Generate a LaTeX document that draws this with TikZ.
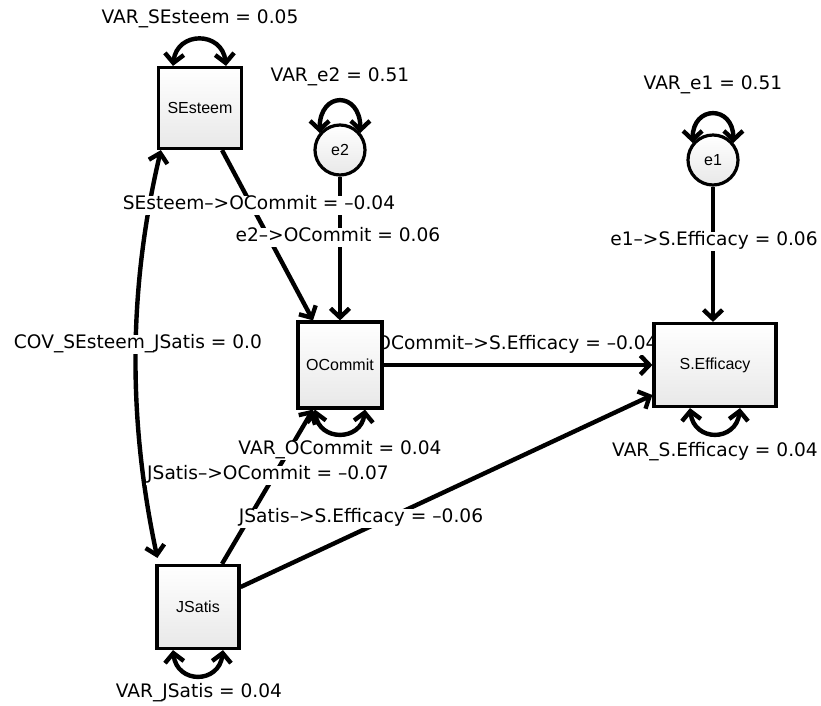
\documentclass[tikz,border=0pt]{standalone}
\usepackage{fontspec}
\setmainfont{DejaVu Sans}
\newfontfamily\nodefont{Liberation Sans}
\usetikzlibrary{arrows.meta}
\pgfdeclarelayer{edges}
\pgfdeclarelayer{labels}
\pgfsetlayers{edges,labels,main}
\begin{document}
\begin{tikzpicture}[x=1pt,y=-1pt,
  obs/.style={draw=black, line width=3.2pt, top color=white, bottom color=gray!18,
    inner sep=0pt, font=\nodefont\fontsize{16}{18}\selectfont},
  latent/.style={obs, circle, minimum size=50pt},
  tipA/.tip={Straight Barb[length=9pt,width=19pt]},
  path/.style={line width=4.4pt, -tipA},
  twoway/.style={line width=4.4pt, tipA-tipA},
  lbl/.style={fill=white, inner sep=1pt, text height=13pt, text depth=4pt,
    font=\fontsize{18.6}{20}\selectfont}]
\useasboundingbox (0,0) rectangle (821,705);

% nodes
\node[obs, minimum width=83pt, minimum height=81pt] (SE) at (200,108) {SEsteem};
\node[obs, minimum width=84pt, minimum height=86pt] (OC) at (340,365) {OCommit};
\node[obs, minimum width=122pt, minimum height=83pt] (SF) at (715,365) {S.Efficacy};
\node[obs, minimum width=82pt, minimum height=83pt] (JS) at (198,607) {JSatis};
\node[latent] (e2) at (340,150) {e2};
\node[latent] (e1) at (713,160) {e1};

\begin{pgfonlayer}{edges}
\draw[path] ([xshift=22pt]SE.south) -- ([xshift=-27pt]OC.north);
\draw[path] (e2.south) -- (OC.north);
\draw[path] (e1.south) -- (e1.south |- SF.north);
\draw[path] (OC.east) -- (SF.west);
\draw[path] ([xshift=24pt]JS.north) -- ([xshift=-27pt]OC.south);
\draw[path] ([yshift=20pt]JS.east) -- ([yshift=-30pt]SF.west);
\draw[twoway] ([xshift=4pt]SE.south west) .. controls (128,290) and (128,420) .. ([xshift=2pt,yshift=6pt]JS.north west);
% variance loops
\draw[twoway] ([xshift=-27pt]SE.north) .. controls +(4,-35) and +(-4,-35) .. ([xshift=26pt]SE.north);
\draw[twoway] (e2.140) .. controls +(0,-42) and +(0,-42) .. (e2.40);
\draw[twoway] (e1.140) .. controls +(0,-38) and +(0,-38) .. (e1.40);
\draw[twoway] ([xshift=-25pt]OC.south) .. controls +(4,32) and +(-4,32) .. ([xshift=25pt]OC.south);
\draw[twoway] ([xshift=-25pt]SF.south) .. controls +(4,34) and +(-4,34) .. ([xshift=25pt]SF.south);
\draw[twoway] ([xshift=-25pt]JS.south) .. controls +(4,34) and +(-4,34) .. ([xshift=25pt]JS.south);
\end{pgfonlayer}

\begin{pgfonlayer}{labels}
\node[lbl] (lSE) at (200,19) {VAR\_SEsteem = 0.05};
\node[lbl] (le2) at (340,77) {VAR\_e2 = 0.51};
\node[lbl] (le1) at (713,85) {VAR\_e1 = 0.51};
\node[lbl] (lSEOC) at (259,205) {SEsteem–>OCommit = –0.04};
\node[lbl] (le2OC) at (338,237) {e2–>OCommit = 0.06};
\node[lbl] (le1SF) at (714,241) {e1–>S.Efficacy = 0.06};
\node[lbl] (lcov) at (138,344) {COV\_SEsteem\_JSatis = 0.0};
\node[lbl] (lOCSF) at (517,345) {OCommit–>S.Efficacy = –0.04};
\node[lbl] (lOC) at (340,450) {VAR\_OCommit = 0.04};
\node[lbl] (lSF) at (715,452) {VAR\_S.Efficacy = 0.04};
\node[lbl] (lJSOC) at (268,475) {JSatis–>OCommit = –0.07};
\node[lbl] (lJSSF) at (361,518) {JSatis–>S.Efficacy = –0.06};
\node[lbl] (lJS) at (199,693) {VAR\_JSatis = 0.04};
\end{pgfonlayer}
\end{tikzpicture}
\end{document}
